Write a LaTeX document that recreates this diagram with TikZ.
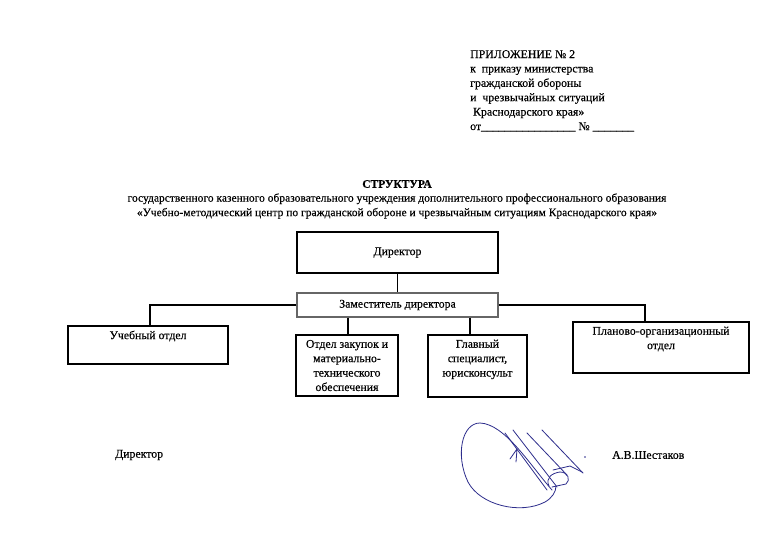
\documentclass[tikz,border=0pt]{standalone}
\usepackage{fontspec}
\setmainfont{Liberation Serif}[FakeBold=0.4]
\definecolor{sigblue}{RGB}{45,45,140}
\begin{document}
\begin{tikzpicture}[x=1pt,y=-1pt,
  box/.style={draw=black, line width=1.1pt, inner sep=0pt, align=center,
    font=\fontsize{11.8}{14.4}\selectfont},
  toplbl/.style={anchor=north, inner sep=0pt, align=center,
    font=\fontsize{11.8}{14.4}\selectfont},
  conn/.style={line width=1.4pt},
  txt/.style={inner sep=0pt, font=\fontsize{11.8}{14.4}\selectfont},
  sig/.style={draw=sigblue, line width=0.8pt, line cap=round, line join=round}]
\useasboundingbox[fill=white] (0,0) rectangle (768,540);

% header
\node[txt, anchor=north west, align=left] (hdr) at (470,50)
  {ПРИЛОЖЕНИЕ №\ 2\\
   к\ \ приказу министерства\\
   гражданской обороны\\
   и\ \ чрезвычайных ситуаций\\
   \ Краснодарского края»\\
   от\_\_\_\_\_\_\_\_\_\_\_\_\_\_\_\_\ №\ \_\_\_\_\_\_\_};

% title
\node[txt, font=\fontsize{11.5}{15}\selectfont\bfseries] (title) at (397,184) {СТРУКТУРА};
\node[txt, font=\fontsize{11.5}{14.5}\selectfont, align=center] (sub) at (397,206)
  {государственного казенного образовательного учреждения дополнительного профессионального образования\\
   «Учебно-методический центр по гражданской обороне и чрезвычайным ситуациям Краснодарского края»};

% boxes
\node[box, minimum width=201pt, minimum height=41pt] (dir) at (397.5,252.5) {Директор};
\node[box, draw=black!60, minimum width=201pt, minimum height=24pt] (dep) at (397.5,305) {Заместитель директора};
\node[box, minimum width=160pt, minimum height=38pt] (ucheb) at (148,345) {};
\node[toplbl] (ucheblbl) at ([yshift=-5pt]ucheb.north) {Учебный отдел};
\node[box, minimum width=102pt, minimum height=61pt] (zak) at (347,365.5)
  {Отдел закупок и\\материально-\\технического\\обеспечения};
\node[box, minimum width=99pt, minimum height=62pt] (glav) at (477.5,366) {};
\node[toplbl] (glavlbl) at ([yshift=-5pt]glav.north) {Главный\\специалист,\\юрисконсульт};
\node[box, minimum width=176pt, minimum height=51pt] (plan) at (661,347.5) {};
\node[toplbl] (planlbl) at ([yshift=-5pt]plan.north) {Планово-организационный\\отдел};

% connectors
\coordinate (u1) at ([xshift=2pt]ucheb.north);
\coordinate (p1) at ([xshift=-16pt]plan.north);
\coordinate (z1) at ([xshift=1pt]zak.north);
\coordinate (g1) at ([xshift=-7.5pt]glav.north);
\draw[conn] (dir.south) -- (dep.north);
\draw[conn] (dep.west) -| (u1);
\draw[conn] (dep.east) -| (p1);
\draw[conn] (z1 |- dep.south) -- (z1);
\draw[conn] (g1 |- dep.south) -- (g1);

% footer
\node[txt, anchor=west] (fdir) at (115,455) {Директор};
\node[txt, anchor=west] (fname) at (612,455) {А.В.Шестаков};

% signature
\draw[sig] (552,490) .. controls (530,465) and (505,424) .. (480,423)
  .. controls (462,423) and (455,455) .. (468,482)
  .. controls (480,505) and (520,515) .. (545,502)
  .. controls (552,498) and (556,492) .. (556,486);
\draw[sig] (505,433) -- (547,490);
\draw[sig] (513,430) -- (557,487);
\draw[sig] (527,433) -- (567,475);
\draw[sig] (542,430) -- (583,473);
\draw[sig] (510,459) -- (517,449) -- (516,462);
\draw[sig] (549,486) .. controls (545,478) and (552,473) .. (560,472)
  .. controls (568,472) and (571,480) .. (566,484) -- (552,487);
\draw[sig] (553,470) -- (570,466) -- (582,472);
\fill[sigblue] (585,457) circle (0.8);
\end{tikzpicture}
\end{document}
